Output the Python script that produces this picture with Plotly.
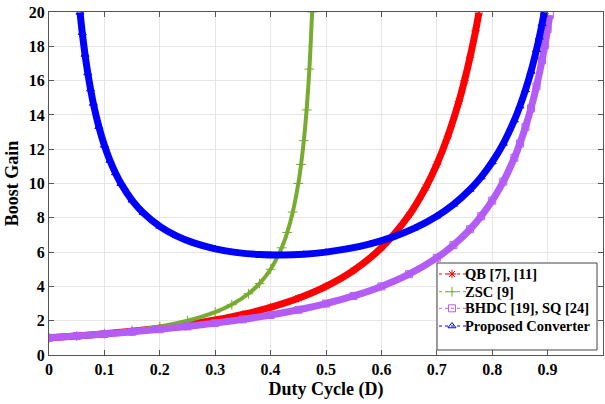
import plotly.graph_objects as go

# ---- data ----
qb_d = [0, 0.05, 0.1, 0.15, 0.2, 0.25, 0.3, 0.35, 0.4, 0.45, 0.5, 0.55, 0.6, 0.65, 0.68, 0.7, 0.72, 0.74, 0.75, 0.76, 0.77, 0.776]
qb_g = [1.0, 1.108, 1.235, 1.384, 1.563, 1.778, 2.041, 2.367, 2.778, 3.306, 4.0, 4.938, 6.25, 8.163, 9.766, 11.11, 12.76, 14.79, 16.0, 17.36, 18.90, 19.93]

zsc_d = [0, 0.05, 0.1, 0.15, 0.2, 0.25, 0.3, 0.33, 0.36, 0.38, 0.4, 0.42, 0.43, 0.44, 0.45, 0.455, 0.46, 0.465, 0.47, 0.475]
zsc_g = [1.0, 1.111, 1.25, 1.429, 1.667, 2.0, 2.5, 2.941, 3.571, 4.167, 5.0, 6.25, 7.143, 8.333, 10.0, 11.11, 12.5, 14.29, 16.67, 20.0]

bh_d = [0, 0.05, 0.1, 0.15, 0.2, 0.25, 0.3, 0.35, 0.4, 0.45, 0.5, 0.55, 0.6, 0.65, 0.7, 0.73, 0.76, 0.78, 0.8, 0.82, 0.84, 0.85, 0.86, 0.87, 0.88, 0.89, 0.895, 0.9, 0.904]
bh_g = [1.0, 1.105, 1.222, 1.353, 1.5, 1.667, 1.857, 2.077, 2.333, 2.636, 3.0, 3.444, 4.0, 4.714, 5.667, 6.407, 7.333, 8.091, 9.0, 10.11, 11.5, 12.33, 13.29, 14.38, 15.67, 17.18, 18.05, 19.0, 19.83]

pc_d = [0.056, 0.06, 0.065, 0.07, 0.075, 0.08, 0.09, 0.1, 0.11, 0.12, 0.13, 0.15, 0.17, 0.2, 0.23, 0.26, 0.3, 0.34, 0.38, 0.42, 0.46, 0.5, 0.54, 0.58, 0.62, 0.66, 0.7, 0.73, 0.76, 0.78, 0.8, 0.82, 0.84, 0.85, 0.86, 0.87, 0.88, 0.885, 0.89, 0.894]
pc_g = [19.98, 18.79, 17.52, 16.44, 15.50, 14.67, 13.31, 12.22, 11.34, 10.61, 9.991, 9.020, 8.292, 7.5, 6.945, 6.549, 6.190, 5.971, 5.857, 5.829, 5.878, 6.0, 6.200, 6.486, 6.876, 7.398, 8.095, 8.777, 9.649, 10.37, 11.25, 12.33, 13.69, 14.51, 15.45, 16.53, 17.80, 18.52, 19.31, 19.99]

x_ticks = [0, 0.1, 0.2, 0.3, 0.4, 0.5, 0.6, 0.7, 0.8, 0.9, 1]
x_labels = ["0", "0.1", "0.2", "0.3", "0.4", "0.5", "0.6", "0.7", "0.8", "0.9", "1"]
y_ticks = [0, 2, 4, 6, 8, 10, 12, 14, 16, 18, 20]

series_names = ["QB [7], [11]", "ZSC [9]", "BHDC [19], SQ [24]", "Proposed Converter"]
series_x = [qb_d, zsc_d, bh_d, pc_d]
series_y = [qb_g, zsc_g, bh_g, pc_g]
series_colors = ["#ff0000", "#77ac30", "#b35cf6", "#0000ff"]
series_symbols = ["asterisk-open", "cross-thin-open", "square-open", "triangle-up-open"]
band_widths = [7, 4, 7, 7]

FONT = "Liberation Serif"
fig = go.Figure()

for xs, ys, col, sym, w in zip(series_x, series_y, series_colors, series_symbols, band_widths):
    fig.add_trace(go.Scatter(
        x=xs, y=ys, mode="lines+markers", showlegend=False,
        line=dict(color=col, width=w, shape="spline", smoothing=0.8),
        marker=dict(symbol=sym, size=7, color=col, line=dict(color=col, width=1)),
        hoverinfo="skip"))

# ---- hand-drawn legend box (MATLAB style) on an overlay axis in plot-fraction units ----
box_x0, box_x1, box_y0, box_y1 = 0.7004, 0.9892, 0.0146, 0.2682
row_y = [0.2362, 0.1845, 0.1361, 0.0845]
samp_x0, samp_xm, samp_x1, text_x = 0.704, 0.7274, 0.7527, 0.7475

fig.add_trace(go.Scatter(
    x=[box_x0, box_x1, box_x1, box_x0, box_x0], y=[box_y0, box_y0, box_y1, box_y1, box_y0],
    xaxis="x2", yaxis="y2", mode="lines", fill="toself", fillcolor="white",
    line=dict(color="#444444", width=1), showlegend=False, hoverinfo="skip"))

for name, col, sym, ry in zip(series_names, series_colors, series_symbols, row_y):
    fig.add_trace(go.Scatter(
        x=[samp_x0, samp_x1], y=[ry, ry], xaxis="x2", yaxis="y2", mode="lines",
        line=dict(color=col, width=1, dash="dot"), showlegend=False, hoverinfo="skip"))
    fig.add_trace(go.Scatter(
        x=[samp_xm], y=[ry], xaxis="x2", yaxis="y2", mode="markers",
        marker=dict(symbol=sym, size=7, color=col, line=dict(color=col, width=1)),
        showlegend=False, hoverinfo="skip"))
    fig.add_annotation(
        x=text_x, y=ry, xref="x2", yref="y2", text=name, showarrow=False,
        xanchor="left", yanchor="middle",
        font=dict(family=FONT, size=14.5, color="black", weight="bold"))

axis_common = dict(
    showline=True, linecolor="#555555", linewidth=1, mirror="ticks",
    ticks="inside", ticklen=5, tickcolor="#555555",
    showgrid=True, gridcolor="#e6e6e6", gridwidth=1, zeroline=False,
    tickfont=dict(family=FONT, size=16, color="black", weight="bold"),
)

fig.update_layout(
    width=605, height=404,
    margin=dict(l=49, r=2, t=12, b=49),
    paper_bgcolor="white", plot_bgcolor="white",
    showlegend=False,
    xaxis=dict(range=[0, 1], tickvals=x_ticks, ticktext=x_labels,
               title=dict(text="Duty Cycle (D)", standoff=5,
                          font=dict(family=FONT, size=18, color="black", weight="bold")),
               **axis_common),
    yaxis=dict(range=[0, 20], tickvals=y_ticks,
               title=dict(text="Boost Gain", standoff=5,
                          font=dict(family=FONT, size=18, color="black", weight="bold")),
               **axis_common),
    xaxis2=dict(overlaying="x", range=[0, 1], visible=False, fixedrange=True),
    yaxis2=dict(overlaying="y", range=[0, 1], visible=False, fixedrange=True),
)

fig.write_html("out.html")
